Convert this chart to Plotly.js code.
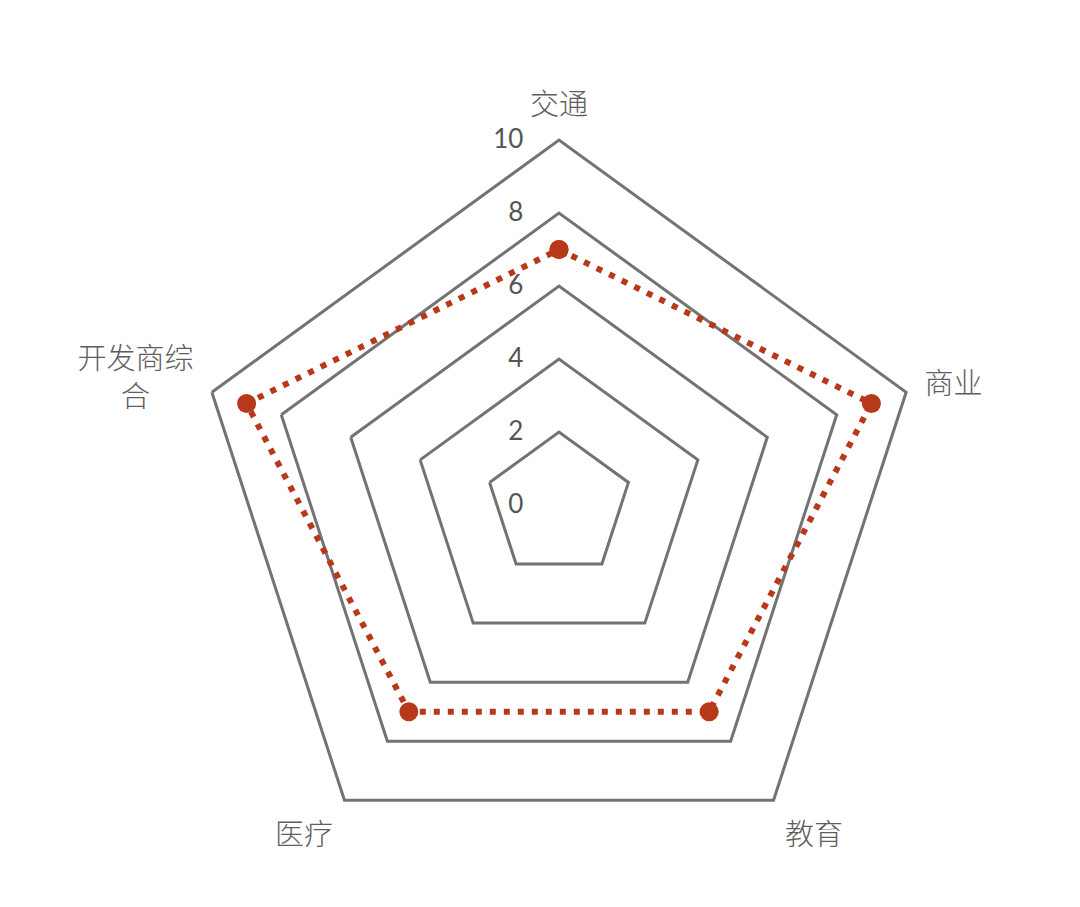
<!DOCTYPE html>
<html>
<head>
<meta charset="utf-8">
<script src="https://cdn.plot.ly/plotly-3.0.1.min.js"></script>
<style>
  html, body { margin: 0; padding: 0; background: #fff; }
  #chart { width: 1080px; height: 907px; }
</style>
</head>
<body>
<div id="chart"></div>
<script>
// dimensions of the radar, in drawing order (clockwise from the top)
var categories = ['交通', '商业', '教育', '医疗', '开发商综<br>合\u3000\u2002'];
var scores = [7, 9, 7, 7, 9];
var radialTicks = [0, 2, 4, 6, 8, 10];

// close the loop
var theta = categories.concat([categories[0]]);
var r = scores.concat([scores[0]]);

var lineColor = '#b8391a';
var gridColor = '#737373';

var data = [
    {
        type: 'scatterpolar',
        mode: 'lines+markers',
        r: r,
        theta: theta,
        line: {
            color: lineColor,
            width: 6,
            dash: '6px,8px'
        },
        marker: {
            color: lineColor,
            size: 19
        },
        hoverinfo: 'skip'
    }
];

var layout = {
    width: 1080,
    height: 907,
    showlegend: false,
    paper_bgcolor: '#fff',
    margin: {l: 0, r: 0, t: 0, b: 0},
    font: {family: '"Noto Sans CJK SC", Lato, sans-serif', color: '#5a5a5a'},
    polar: {
        bgcolor: 'rgba(0,0,0,0)',
        gridshape: 'linear',
        domain: {
            x: [194 / 1080, 924 / 1080],
            y: [37 / 907, 767 / 907]
        },
        radialaxis: {
            range: [0, 10],
            tickvals: radialTicks,
            angle: 90,
            side: 'counterclockwise',
            tickangle: 90,
            showline: false,
            ticks: 'outside',
            ticklen: 26,
            tickcolor: 'rgba(0,0,0,0)',
            showgrid: true,
            gridcolor: gridColor,
            gridwidth: 3,
            tickfont: {size: 26, family: 'Lato, "Open Sans", sans-serif', color: '#555'}
        },
        angularaxis: {
            direction: 'clockwise',
            rotation: 90,
            showgrid: false,
            showline: true,
            linecolor: gridColor,
            linewidth: 3,
            ticks: 'outside',
            ticklen: 12,
            tickcolor: 'rgba(0,0,0,0)',
            tickfont: {size: 29, color: '#5e5e5e', weight: 300}
        }
    }
};

Plotly.newPlot('chart', data, layout, {staticPlot: true});
</script>
</body>
</html>
